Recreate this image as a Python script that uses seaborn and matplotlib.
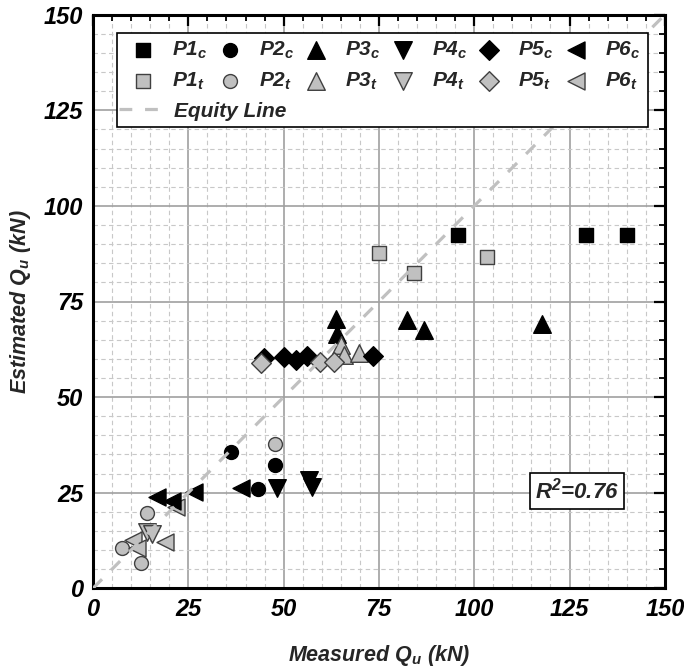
import matplotlib
matplotlib.use("Agg")
import numpy as np
import pandas as pd
import seaborn as sns
import matplotlib.pyplot as plt
from matplotlib.lines import Line2D
from matplotlib.ticker import MultipleLocator

# measured (x) vs estimated (y) Qu, kN  -- c = compression, t = tension
p1c_x = [95.7, 129.2, 140.0]
p1c_y = [92.3, 92.3, 92.3]
p1t_x = [75.1, 84.3, 103.4]
p1t_y = [87.8, 82.4, 86.7]
p2c_x = [36.2, 43.3, 47.7]
p2c_y = [35.7, 25.9, 32.2]
p2t_x = [7.5, 12.5, 14.1, 47.7]
p2t_y = [10.4, 6.5, 19.8, 37.6]
p3c_x = [63.7, 64.1, 82.4, 86.8, 117.8]
p3c_y = [70.3, 66.5, 70.2, 67.5, 69.1]
p3t_x = [65.0, 65.9, 69.8]
p3t_y = [63.6, 61.0, 61.6]
p4c_x = [48.3, 56.7, 57.4]
p4c_y = [26.1, 28.3, 26.5]
p4t_x = [14.1, 15.4]
p4t_y = [14.7, 14.3]
p5c_x = [44.8, 50.1, 53.2, 56.2, 73.5]
p5c_y = [60.1, 60.5, 59.7, 60.7, 60.7]
p5t_x = [44.1, 59.6, 63.1]
p5t_y = [59.0, 59.2, 59.1]
p6c_x = [16.8, 20.7, 26.4, 38.9]
p6c_y = [23.9, 22.9, 25.2, 26.1]
p6t_x = [10.4, 11.5, 18.9, 21.8]
p6t_y = [12.6, 10.4, 12.1, 21.2]

names = ["P1", "P2", "P3", "P4", "P5", "P6"]
ticks = [0, 25, 50, 75, 100, 125, 150]
r2_text = r"R$^2$=0.76"

sns.set_theme(style="white")
plt.rcParams["font.family"] = ["Liberation Sans", "DejaVu Sans"]
plt.rcParams["font.weight"] = "bold"
plt.rcParams["font.style"] = "italic"
plt.rcParams["axes.labelweight"] = "bold"
plt.rcParams["mathtext.fontset"] = "custom"
plt.rcParams["mathtext.rm"] = "Liberation Sans:italic:bold"
plt.rcParams["mathtext.it"] = "Liberation Sans:italic:bold"
plt.rcParams["mathtext.bf"] = "Liberation Sans:italic:bold"

fig, ax = plt.subplots(figsize=(6.84, 6.70), dpi=100)
fig.subplots_adjust(left=0.136, right=0.972, bottom=0.122, top=0.978)

markers = ["s", "o", "^", "v", "D", "<"]
sizes = [100, 100, 160, 160, 100, 150]
comp = [(p1c_x, p1c_y), (p2c_x, p2c_y), (p3c_x, p3c_y),
        (p4c_x, p4c_y), (p5c_x, p5c_y), (p6c_x, p6c_y)]
tens = [(p1t_x, p1t_y), (p2t_x, p2t_y), (p3t_x, p3t_y),
        (p4t_x, p4t_y), (p5t_x, p5t_y), (p6t_x, p6t_y)]

for i, name in enumerate(names):
    c_df = pd.DataFrame({"x": comp[i][0], "y": comp[i][1]})
    t_df = pd.DataFrame({"x": tens[i][0], "y": tens[i][1]})
    order = [("c", c_df), ("t", t_df)]
    if name == "P6":
        order = order[::-1]
    for kind, df in order:
        if kind == "c":
            sns.scatterplot(data=df, x="x", y="y", marker=markers[i], s=sizes[i],
                            color="black", edgecolor="black", linewidth=1,
                            label=f"{name}$_c$", legend=False, ax=ax, zorder=2)
        else:
            sns.scatterplot(data=df, x="x", y="y", marker=markers[i], s=sizes[i],
                            color="#c0c0c0", edgecolor="#404040", linewidth=1,
                            label=f"{name}$_t$", legend=False, ax=ax, zorder=2)

eq_style = dict(color="#c0c0c0", lw=2.3, ls=(0, (4, 4)))
ax.axline((0, 0), slope=1, zorder=3, **eq_style)

ax.set_xlim(0, 150)
ax.set_ylim(0, 150)
ax.set_xticks(ticks)
ax.set_yticks(ticks)
ax.xaxis.set_minor_locator(MultipleLocator(5))
ax.yaxis.set_minor_locator(MultipleLocator(5))
ax.set_axisbelow(True)
ax.grid(which="major", color="#a0a0a0", lw=1.2, ls="-")
ax.grid(which="minor", color="#c8c8c8", lw=0.8, ls=(0, (4, 3)))
ax.tick_params(which="both", direction="in", top=True, right=True, colors="black")
ax.tick_params(which="major", length=8, width=1.6, labelsize=17, pad=7)
ax.tick_params(which="minor", length=4, width=1.3)
for lab in ax.get_xticklabels() + ax.get_yticklabels():
    lab.set_fontstyle("italic")
    lab.set_fontweight("bold")
for sp in ax.spines.values():
    sp.set_linewidth(2.2)
    sp.set_color("black")

ax.set_xlabel(r"Measured Q$_u$ (kN)", fontsize=15.5, labelpad=16)
ax.set_ylabel(r"Estimated Q$_u$ (kN)", fontsize=15.5, labelpad=8)

ax.text(127, 25.5, r2_text, fontsize=16, ha="center", va="center",
        bbox=dict(boxstyle="square,pad=0.22", fc="white", ec="black", lw=1.2),
        zorder=4)

# legend: 6 columns x 3 rows, last row blank except the equity line (separate legend)
h_all, l_all = ax.get_legend_handles_labels()
lookup = dict(zip(l_all, h_all))
blank = Line2D([], [], ls="none", marker=None)
handles, labels = [], []
for name in names:
    handles += [lookup[f"{name}$_c$"], lookup[f"{name}$_t$"], blank]
    labels += [f"{name}$_c$", f"{name}$_t$", ""]
leg = ax.legend(handles, labels, ncol=6, loc="upper left", mode="expand",
                bbox_to_anchor=(0.042, 0.805, 0.928, 0.164), fontsize=15,
                frameon=True, fancybox=False, framealpha=1, edgecolor="black",
                borderpad=0.35, labelspacing=0.45, handlelength=1.8,
                handletextpad=0.5, columnspacing=0.5, borderaxespad=0)
leg.get_frame().set_linewidth(1.2)
leg.set_zorder(5)
ax.add_artist(leg)

eq_handle = Line2D([], [], **eq_style)
leg2 = ax.legend([eq_handle], ["Equity Line"], loc="center left",
                 bbox_to_anchor=(0.045, 0.832), fontsize=15, frameon=False,
                 borderpad=0, handlelength=1.9, handletextpad=0.75, borderaxespad=0)
leg2.set_zorder(6)

fig.savefig("out.png", dpi=100)
